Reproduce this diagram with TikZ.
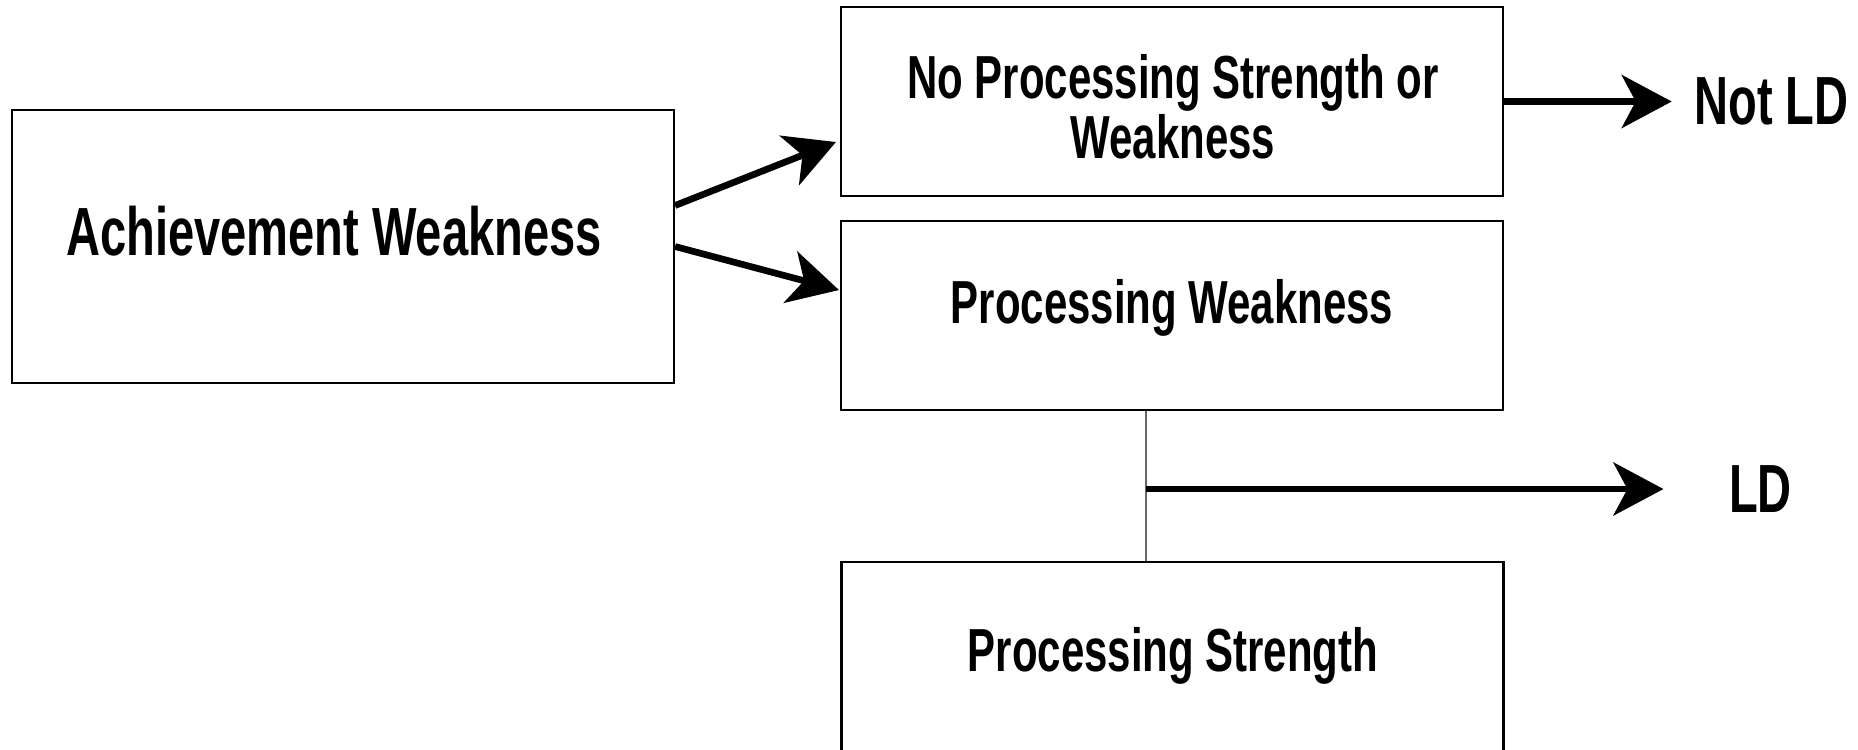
\documentclass[tikz,border=0pt]{standalone}
\usepackage{fontspec}
\setmainfont[FakeStretch=0.69]{Liberation Sans}
\usetikzlibrary{arrows.meta}

\begin{document}
\begin{tikzpicture}[
        box/.style={draw, line width=0.6pt, minimum width=6.62cm, inner sep=0pt},
        bigtxt/.style={font=\bfseries\fontsize{19.4}{19}\selectfont, inner sep=0pt},
        smalltxt/.style={font=\bfseries\fontsize{17.3}{15.6}\selectfont, inner sep=0pt, align=center},
        fatarrow/.style={line width=1.9pt, -{Stealth[length=0.5cm, width=0.53cm, inset=0.14cm]}}
    ]
            \useasboundingbox (0,0) rectangle (18.58,-7.49);
            % boxes
            \node[box, minimum height=2.73cm] (ach) at (3.43,-2.465) {};
            \node[box, minimum height=1.89cm] (noproc) at (11.72,-1.015) {};
            \node[box, minimum height=1.89cm] (weak) at (11.72,-3.155) {};
            \node[box, minimum height=1.89cm] (strength) at (11.725,-6.565) {};
            % texts
            \node[bigtxt] (achT) at (3.34,-2.315) {Achievement Weakness};
            \node[smalltxt] (noprocT) at (11.73,-1.07) {No Processing Strength or\\Weakness};
            \node[smalltxt, anchor=base] (weakT) at (11.72,-3.23) {Processing Weakness};
            \node[smalltxt, anchor=base] (strengthT) at (11.73,-6.71) {Processing Strength};
            \node[bigtxt] (notld) at (17.715,-1.015) {Not LD};
            \node[bigtxt] (ld) at (17.605,-4.89) {LD};
            % connectors
            \draw[fatarrow] ([yshift=4.1mm]ach.east) -- ([shift={(-0.4mm,-4.05mm)}]noproc.west);
            \draw[fatarrow] (ach.east) -- ([shift={(-0.1mm,2.55mm)}]weak.west);
            \draw[fatarrow] (noproc.east) -- ([xshift=-2.2mm]notld.west);
            \coordinate (forktop) at ([xshift=-2.6mm]weak.south);
            \coordinate (fork) at (forktop |- ld.west);
            \draw[line width=0.4pt, black!60] (forktop) -- (forktop |- strength.north);
            \draw[fatarrow] (fork) -- ([xshift=-6.5mm]ld.west);
        \end{tikzpicture}
\end{document}
